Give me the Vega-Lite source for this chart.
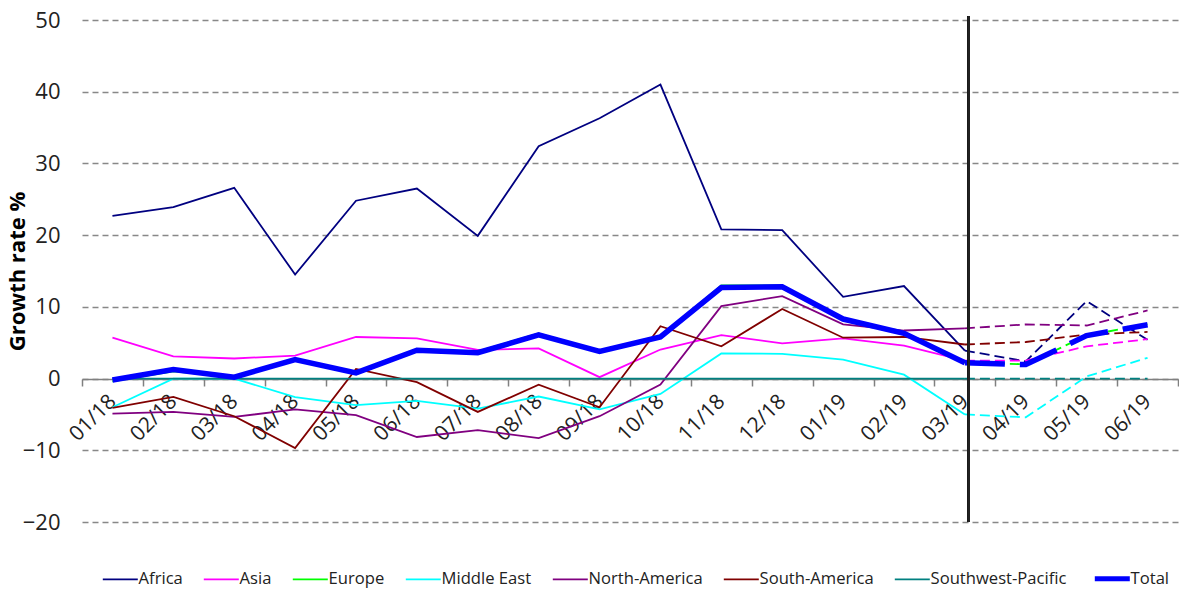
{
  "$schema": "https://vega.github.io/schema/vega-lite/v6.json",
  "width": 1096,
  "height": 502,
  "autosize": "none",
  "padding": {"left": 82, "top": 20, "right": 1, "bottom": 69},
  "background": "white",
  "config": {
    "view": {"stroke": null},
    "font": "Open Sans"
  },
  "data": {
    "values": [
      {"m":"01/18","t":0,"r":"Africa","v":22.7},{"m":"02/18","t":1,"r":"Africa","v":23.9},{"m":"03/18","t":2,"r":"Africa","v":26.6},{"m":"04/18","t":3,"r":"Africa","v":14.5},{"m":"05/18","t":4,"r":"Africa","v":24.8},{"m":"06/18","t":5,"r":"Africa","v":26.5},{"m":"07/18","t":6,"r":"Africa","v":19.9},{"m":"08/18","t":7,"r":"Africa","v":32.4},{"m":"09/18","t":8,"r":"Africa","v":36.3},{"m":"10/18","t":9,"r":"Africa","v":41.0},{"m":"11/18","t":10,"r":"Africa","v":20.8},{"m":"12/18","t":11,"r":"Africa","v":20.7},{"m":"01/19","t":12,"r":"Africa","v":11.4},{"m":"02/19","t":13,"r":"Africa","v":12.9},{"m":"03/19","t":14,"r":"Africa","v":3.9},{"m":"04/19","t":15,"r":"Africa","v":2.4},{"m":"05/19","t":16,"r":"Africa","v":10.8},{"m":"06/19","t":17,"r":"Africa","v":5.4},
      {"m":"01/18","t":0,"r":"Asia","v":5.7},{"m":"02/18","t":1,"r":"Asia","v":3.1},{"m":"03/18","t":2,"r":"Asia","v":2.8},{"m":"04/18","t":3,"r":"Asia","v":3.2},{"m":"05/18","t":4,"r":"Asia","v":5.8},{"m":"06/18","t":5,"r":"Asia","v":5.6},{"m":"07/18","t":6,"r":"Asia","v":4.0},{"m":"08/18","t":7,"r":"Asia","v":4.2},{"m":"09/18","t":8,"r":"Asia","v":0.2},{"m":"10/18","t":9,"r":"Asia","v":4.05},{"m":"11/18","t":10,"r":"Asia","v":6.05},{"m":"12/18","t":11,"r":"Asia","v":4.9},{"m":"01/19","t":12,"r":"Asia","v":5.6},{"m":"02/19","t":13,"r":"Asia","v":4.6},{"m":"03/19","t":14,"r":"Asia","v":2.5},{"m":"04/19","t":15,"r":"Asia","v":2.5},{"m":"05/19","t":16,"r":"Asia","v":4.5},{"m":"06/19","t":17,"r":"Asia","v":5.5},
      {"m":"01/18","t":0,"r":"Europe","v":-0.4},{"m":"02/18","t":1,"r":"Europe","v":1.0},{"m":"03/18","t":2,"r":"Europe","v":0.2},{"m":"04/18","t":3,"r":"Europe","v":2.6},{"m":"05/18","t":4,"r":"Europe","v":0.8},{"m":"06/18","t":5,"r":"Europe","v":4.0},{"m":"07/18","t":6,"r":"Europe","v":3.8},{"m":"08/18","t":7,"r":"Europe","v":6.3},{"m":"09/18","t":8,"r":"Europe","v":3.8},{"m":"10/18","t":9,"r":"Europe","v":5.9},{"m":"11/18","t":10,"r":"Europe","v":13.0},{"m":"12/18","t":11,"r":"Europe","v":13.0},{"m":"01/19","t":12,"r":"Europe","v":8.3},{"m":"02/19","t":13,"r":"Europe","v":6.4},{"m":"03/19","t":14,"r":"Europe","v":2.2},{"m":"04/19","t":15,"r":"Europe","v":2.0},{"m":"05/19","t":16,"r":"Europe","v":6.0},{"m":"06/19","t":17,"r":"Europe","v":7.6},
      {"m":"01/18","t":0,"r":"Middle East","v":-4.0},{"m":"02/18","t":1,"r":"Middle East","v":0.0},{"m":"03/18","t":2,"r":"Middle East","v":0.0},{"m":"04/18","t":3,"r":"Middle East","v":-2.6},{"m":"05/18","t":4,"r":"Middle East","v":-3.7},{"m":"06/18","t":5,"r":"Middle East","v":-3.1},{"m":"07/18","t":6,"r":"Middle East","v":-4.2},{"m":"08/18","t":7,"r":"Middle East","v":-2.5},{"m":"09/18","t":8,"r":"Middle East","v":-4.3},{"m":"10/18","t":9,"r":"Middle East","v":-2.15},{"m":"11/18","t":10,"r":"Middle East","v":3.5},{"m":"12/18","t":11,"r":"Middle East","v":3.45},{"m":"01/19","t":12,"r":"Middle East","v":2.65},{"m":"02/19","t":13,"r":"Middle East","v":0.55},{"m":"03/19","t":14,"r":"Middle East","v":-5.0},{"m":"04/19","t":15,"r":"Middle East","v":-5.4},{"m":"05/19","t":16,"r":"Middle East","v":0.3},{"m":"06/19","t":17,"r":"Middle East","v":2.9},
      {"m":"01/18","t":0,"r":"North-America","v":-4.9},{"m":"02/18","t":1,"r":"North-America","v":-4.65},{"m":"03/18","t":2,"r":"North-America","v":-5.35},{"m":"04/18","t":3,"r":"North-America","v":-4.3},{"m":"05/18","t":4,"r":"North-America","v":-5.1},{"m":"06/18","t":5,"r":"North-America","v":-8.15},{"m":"07/18","t":6,"r":"North-America","v":-7.2},{"m":"08/18","t":7,"r":"North-America","v":-8.3},{"m":"09/18","t":8,"r":"North-America","v":-5.25},{"m":"10/18","t":9,"r":"North-America","v":-0.85},{"m":"11/18","t":10,"r":"North-America","v":10.1},{"m":"12/18","t":11,"r":"North-America","v":11.5},{"m":"01/19","t":12,"r":"North-America","v":7.55},{"m":"02/19","t":13,"r":"North-America","v":6.7},{"m":"03/19","t":14,"r":"North-America","v":7.0},{"m":"04/19","t":15,"r":"North-America","v":7.55},{"m":"05/19","t":16,"r":"North-America","v":7.4},{"m":"06/19","t":17,"r":"North-America","v":9.5},
      {"m":"01/18","t":0,"r":"South-America","v":-4.1},{"m":"02/18","t":1,"r":"South-America","v":-2.55},{"m":"03/18","t":2,"r":"South-America","v":-5.25},{"m":"04/18","t":3,"r":"South-America","v":-9.7},{"m":"05/18","t":4,"r":"South-America","v":1.35},{"m":"06/18","t":5,"r":"South-America","v":-0.5},{"m":"07/18","t":6,"r":"South-America","v":-4.65},{"m":"08/18","t":7,"r":"South-America","v":-0.85},{"m":"09/18","t":8,"r":"South-America","v":-4.0},{"m":"10/18","t":9,"r":"South-America","v":7.3},{"m":"11/18","t":10,"r":"South-America","v":4.5},{"m":"12/18","t":11,"r":"South-America","v":9.7},{"m":"01/19","t":12,"r":"South-America","v":5.7},{"m":"02/19","t":13,"r":"South-America","v":5.8},{"m":"03/19","t":14,"r":"South-America","v":4.75},{"m":"04/19","t":15,"r":"South-America","v":5.1},{"m":"05/19","t":16,"r":"South-America","v":6.15},{"m":"06/19","t":17,"r":"South-America","v":6.5},
      {"m":"01/18","t":0,"r":"Southwest-Pacific","v":0},{"m":"02/18","t":1,"r":"Southwest-Pacific","v":0},{"m":"03/18","t":2,"r":"Southwest-Pacific","v":0},{"m":"04/18","t":3,"r":"Southwest-Pacific","v":0},{"m":"05/18","t":4,"r":"Southwest-Pacific","v":0},{"m":"06/18","t":5,"r":"Southwest-Pacific","v":0},{"m":"07/18","t":6,"r":"Southwest-Pacific","v":0},{"m":"08/18","t":7,"r":"Southwest-Pacific","v":0},{"m":"09/18","t":8,"r":"Southwest-Pacific","v":0},{"m":"10/18","t":9,"r":"Southwest-Pacific","v":0},{"m":"11/18","t":10,"r":"Southwest-Pacific","v":0},{"m":"12/18","t":11,"r":"Southwest-Pacific","v":0},{"m":"01/19","t":12,"r":"Southwest-Pacific","v":0},{"m":"02/19","t":13,"r":"Southwest-Pacific","v":0},{"m":"03/19","t":14,"r":"Southwest-Pacific","v":0},{"m":"04/19","t":15,"r":"Southwest-Pacific","v":0},{"m":"05/19","t":16,"r":"Southwest-Pacific","v":0},{"m":"06/19","t":17,"r":"Southwest-Pacific","v":0},
      {"m":"01/18","t":0,"r":"Total","v":-0.2},{"m":"02/18","t":1,"r":"Total","v":1.25},{"m":"03/18","t":2,"r":"Total","v":0.2},{"m":"04/18","t":3,"r":"Total","v":2.65},{"m":"05/18","t":4,"r":"Total","v":0.8},{"m":"06/18","t":5,"r":"Total","v":3.95},{"m":"07/18","t":6,"r":"Total","v":3.6},{"m":"08/18","t":7,"r":"Total","v":6.1},{"m":"09/18","t":8,"r":"Total","v":3.8},{"m":"10/18","t":9,"r":"Total","v":5.8},{"m":"11/18","t":10,"r":"Total","v":12.7},{"m":"12/18","t":11,"r":"Total","v":12.8},{"m":"01/19","t":12,"r":"Total","v":8.3},{"m":"02/19","t":13,"r":"Total","v":6.3},{"m":"03/19","t":14,"r":"Total","v":2.2},{"m":"04/19","t":15,"r":"Total","v":1.95},{"m":"05/19","t":16,"r":"Total","v":6.0},{"m":"06/19","t":17,"r":"Total","v":7.5}
    ]
  },
  "encoding": {
    "x": {
      "field": "m", "type": "nominal", "sort": null,
      "scale": {"paddingInner": 0, "paddingOuter": 0},
      "axis": {
        "title": null, "orient": "bottom", "offset": -143,
        "labelAngle": -45, "labelAlign": "right", "labelBaseline": "middle",
        "labelFontSize": 21, "labelColor": "#222222", "labelPadding": 12,
        "tickBand": "extent", "tickSize": 7, "tickColor": "#808080", "tickWidth": 1.5,
        "domainColor": "#808080", "domainWidth": 1.5, "grid": false
      }
    },
    "y": {
      "field": "v", "type": "quantitative",
      "scale": {"domain": [-20, 50], "nice": false, "zero": false},
      "axis": {
        "title": "Growth rate %", "titleFontSize": 22, "titleFontWeight": "bold", "titleColor": "#000000", "titlePadding": -7,
        "values": [-20, -10, 0, 10, 20, 30, 40, 50],
        "labelFontSize": 22, "labelColor": "#222222", "labelPadding": 22,
        "domain": false, "ticks": false,
        "grid": true, "gridDash": [6, 4], "gridColor": "#888888", "gridWidth": 1.5
      }
    },
    "color": {
      "field": "r", "type": "nominal",
      "scale": {
        "domain": ["Africa","Asia","Europe","Middle East","North-America","South-America","Southwest-Pacific","Total"],
        "range": ["#000080","#FF00FF","#00FF00","#00FFFF","#800080","#800000","#008080","#0000FF"]
      },
      "legend": {
        "title": null, "orient": "none", "legendX": 30, "legendY": 550, "direction": "horizontal",
        "labelFontSize": 16.6, "labelColor": "#222222", "symbolType": "stroke", "symbolSize": 1225,
        "symbolStrokeWidth": 1.8, "columnPadding": 17, "labelOffset": 10,
        "encode": {"symbols": {"update": {"strokeWidth": {"signal": "datum.value === 'Total' ? 5 : 1.8"}}}}
      }
    }
  },
  "layer": [
    {
      "transform": [{"filter": "datum.t <= 14 && datum.r != 'Total'"}],
      "mark": {"type": "line", "strokeWidth": 1.8},
      "encoding": {}
    },
    {
      "transform": [{"filter": "datum.t >= 14 && datum.r != 'Total'"}],
      "mark": {"type": "line", "strokeWidth": 1.8, "strokeDash": [10, 5]},
      "encoding": {}
    },
    {
      "transform": [{"filter": "datum.t <= 14 && datum.r == 'Total'"}],
      "mark": {"type": "line", "strokeWidth": 5.5},
      "encoding": {}
    },
    {
      "transform": [{"filter": "datum.t >= 14 && datum.r == 'Total'"}],
      "mark": {"type": "line", "strokeWidth": 5.5, "strokeDash": [40, 15]},
      "encoding": {}
    },
    {
      "mark": {"type": "rule", "color": "#222222", "strokeWidth": 2, "xOffset": 4},
      "encoding": {
        "x": {"datum": "03/19"},
        "y": {"datum": -20},
        "y2": {"datum": 50.5},
        "color": {"value": "#222222"}
      }
    }
  ]
}
